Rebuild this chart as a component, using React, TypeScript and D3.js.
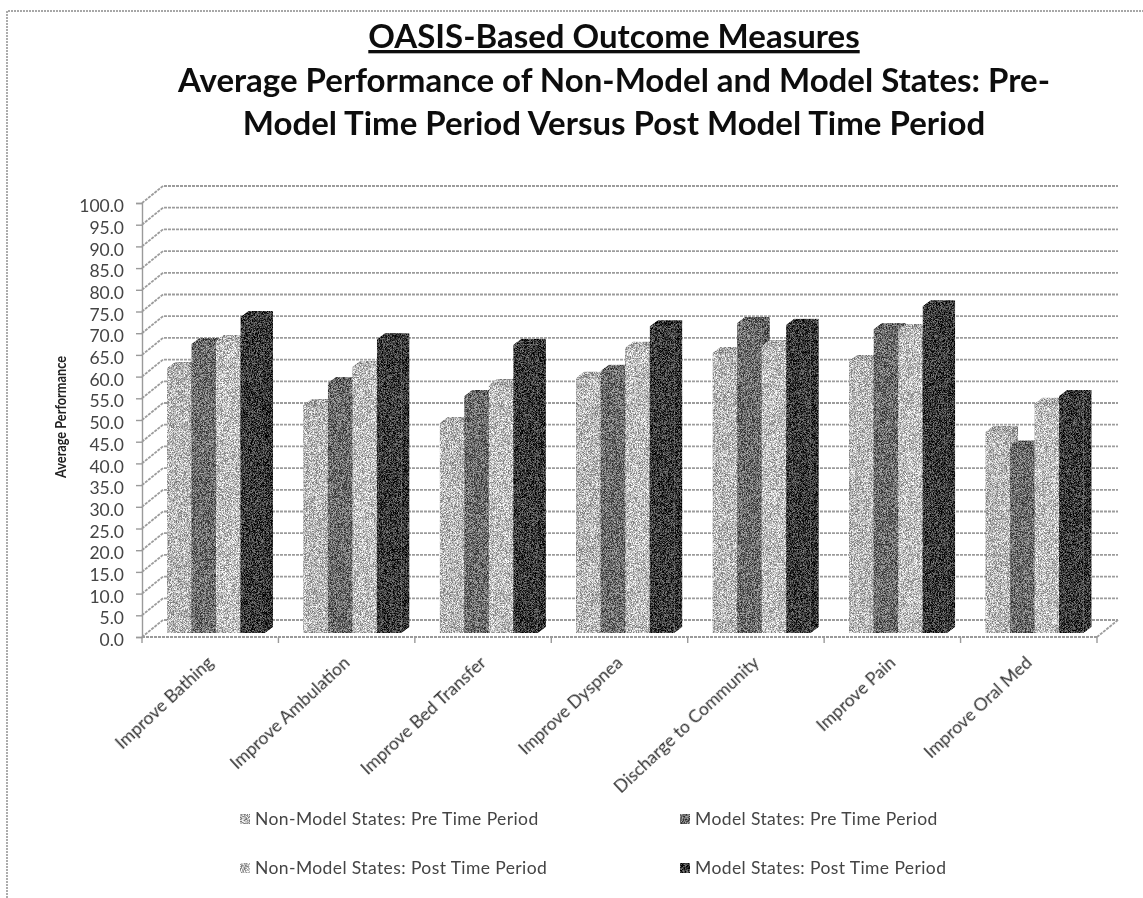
import React, { useRef, useEffect } from 'react';
import * as d3 from 'd3';

const categories = ['Improve Bathing', 'Improve Ambulation', 'Improve Bed Transfer', 'Improve Dyspnea', 'Discharge to Community', 'Improve Pain', 'Improve Oral Med'];
const seriesNames = ['Non-Model States: Pre Time Period', 'Model States: Pre Time Period', 'Non-Model States: Post Time Period', 'Model States: Post Time Period'];
const nonModelPre = [61, 52.5, 48.4, 58.8, 64.5, 62.7, 46.3];
const modelPre = [66.6, 57.6, 54.6, 60.4, 71.4, 70, 43];
const nonModelPost = [67.3, 61.3, 57.1, 65.7, 66.1, 69.8, 52.8];
const modelPost = [72.8, 67.7, 66.4, 70.7, 71, 75.3, 54.6];
const yTicks = d3.range(0, 101, 5);
const titleLines = ['OASIS-Based Outcome Measures', 'Average Performance of Non-Model and Model States: Pre-', 'Model Time Period Versus Post Model Time Period'];

const COLORS = ['#b8b8b8', '#6c6c6c', '#bebebe', '#3a3a3a'];
const FONT = 'Lato, "Open Sans", sans-serif';

const App: React.FC = () => {
    const svgRef = useRef<SVGSVGElement | null>(null);

    useEffect(() => {
        if (!svgRef.current) return;
        const svg = d3.select(svgRef.current);
        svg.selectAll('*').remove();

        const width = 1143, height = 898;
        const left = 142, right = 1097, top = 203, bottom = 637;
        const wallX = 21, wallY = 17;
        const barLift = 4, depthX = 8, depthY = 6;
        const series = [nonModelPre, modelPre, nonModelPost, modelPost];

        svg.attr('width', width).attr('height', height);

        const x = d3.scaleBand<string>().domain(categories).range([left, right]);
        const y = d3.scaleLinear().domain([0, 100]).range([bottom, top]);
        const inner = d3.scaleBand<number>().domain([0, 1, 2, 3]).range([25, 123]);

        const defs = svg.append('defs');
        const speckle = defs.append('filter').attr('id', 'speckle')
            .attr('x', '-5%').attr('y', '-5%').attr('width', '110%').attr('height', '110%')
            .attr('color-interpolation-filters', 'sRGB');
        speckle.append('feTurbulence').attr('type', 'fractalNoise').attr('baseFrequency', 1.37).attr('numOctaves', 2).attr('seed', 4).attr('result', 'noise');
        speckle.append('feColorMatrix').attr('in', 'noise').attr('type', 'matrix')
            .attr('values', '3 0 0 0 -1  3 0 0 0 -1  3 0 0 0 -1  0 0 0 0 1').attr('result', 'gray');
        speckle.append('feComposite').attr('in', 'SourceGraphic').attr('in2', 'gray').attr('operator', 'arithmetic')
            .attr('k1', 0).attr('k2', 1).attr('k3', 0.5).attr('k4', -0.25).attr('result', 'mix');
        speckle.append('feComposite').attr('in', 'mix').attr('in2', 'SourceAlpha').attr('operator', 'in');
        defs.append('filter').attr('id', 'soft').append('feGaussianBlur').attr('stdDeviation', 0.5);

        // Frame
        svg.append('path').attr('d', `M7,${height}V11H${width}`)
            .attr('fill', 'none').attr('stroke', '#8a8a8a').attr('stroke-width', 1.4).attr('stroke-dasharray', '2 1');

        // Title
        const title = svg.append('g').attr('filter', 'url(#soft)').attr('font-family', FONT).attr('font-weight', 700)
            .attr('font-size', 33).attr('fill', '#111').attr('text-anchor', 'middle');
        title.selectAll('text').data(titleLines).join('text')
            .attr('x', 614).attr('y', (_, i) => [48, 92, 135][i])
            .attr('text-decoration', (_, i) => i === 0 ? 'underline' : null)
            .text(d => d);

        // Walls and gridlines
        const grid = svg.append('g').attr('fill', 'none').attr('stroke', '#9c9c9c').attr('stroke-width', 1.8).attr('stroke-dasharray', '3 1');
        grid.selectAll('path.grid').data(yTicks).join('path').attr('class', 'grid')
            .attr('d', d => `M${left},${y(d)}L${left + wallX},${y(d) - wallY}H${right + wallX}`);
        grid.append('path').attr('d', `M${right},${bottom}L${right + wallX},${bottom - wallY}`);

        // Axes
        const yAxis = svg.append('g').attr('transform', `translate(${left},0)`)
            .call(d3.axisLeft(y).tickValues(yTicks).tickFormat(d => (d as number).toFixed(1)).tickSize(6).tickPadding(12));
        const xAxis = svg.append('g').attr('transform', `translate(0,${bottom})`)
            .call(d3.axisBottom(x).tickSize(0).tickPadding(6));
        xAxis.selectAll('.tickmark').data([...categories, '']).join('line').attr('class', 'tickmark')
            .attr('x1', (_, i) => left + i * x.step()).attr('x2', (_, i) => left + i * x.step())
            .attr('y1', 0).attr('y2', 6).attr('stroke', '#9a9a9a').attr('stroke-width', 1.4);
        yAxis.selectAll('path, line').attr('stroke', '#9a9a9a').attr('stroke-width', 1.4);
        xAxis.select('path.domain').attr('stroke', '#9a9a9a').attr('stroke-width', 1.8).attr('stroke-dasharray', '3 1').attr('d', `M${left},0H${right}`);
        yAxis.selectAll('text').attr('font-family', FONT).attr('font-size', 17.5).attr('fill', '#444').attr('filter', 'url(#soft)')
            .attr('transform', 'translate(0,3)');
        xAxis.selectAll('.tick text')
            .attr('font-family', FONT).attr('font-size', 17.5).attr('fill', '#333').attr('filter', 'url(#soft)')
            .attr('text-anchor', 'end')
            .attr('transform', 'translate(-8,14) rotate(-43)');

        // Axis title
        svg.append('text').attr('transform', 'translate(66,417) rotate(-90)').attr('text-anchor', 'middle')
            .attr('font-family', FONT).attr('font-weight', 700).attr('font-size', 14.5).attr('fill', '#222').attr('filter', 'url(#soft)')
            .attr('textLength', 122).attr('lengthAdjust', 'spacingAndGlyphs')
            .text('Average Performance');

        // Bars
        const bars = svg.append('g').attr('filter', 'url(#speckle)');
        categories.forEach((cat, c) => {
            series.forEach((values, s) => {
                const x0 = x(cat)! + inner(s)!;
                const bw = inner.bandwidth();
                const yTop = y(values[c]) - barLift;
                const yBase = bottom - barLift;
                const color = d3.color(COLORS[s])!;
                const g = bars.append('g');
                g.append('path')
                    .attr('d', `M${x0 + bw},${yTop}l${depthX},${-depthY}V${yBase - depthY}l${-depthX},${depthY}Z`)
                    .attr('fill', color.darker(0.35).toString());
                g.append('path')
                    .attr('d', `M${x0},${yTop}l${depthX},${-depthY}H${x0 + bw + depthX}l${-depthX},${depthY}Z`)
                    .attr('fill', color.darker(0.25).toString());
                g.append('rect').attr('x', x0).attr('y', yTop).attr('width', bw).attr('height', yBase - yTop).attr('fill', COLORS[s]);
            });
        });

        // Legend
        const legendX = [240, 680], legendY = [819, 868];
        const legend = svg.append('g').attr('font-family', FONT).attr('font-size', 17.5).attr('letter-spacing', 0.4).attr('fill', '#444');
        seriesNames.forEach((name, i) => {
            const lx = legendX[i % 2], ly = legendY[Math.floor(i / 2)];
            legend.append('rect').attr('x', lx).attr('y', ly - 5).attr('width', 10).attr('height', 10)
                .attr('fill', COLORS[i]).attr('filter', 'url(#speckle)');
            legend.append('text').attr('x', lx + 15).attr('y', ly).attr('dy', '0.35em').attr('filter', 'url(#soft)').text(name);
        });
    }, []);

    return <svg ref={svgRef} style={{ position: 'absolute', left: 0, top: 0, background: '#fff' }}></svg>;
};

export default App;
